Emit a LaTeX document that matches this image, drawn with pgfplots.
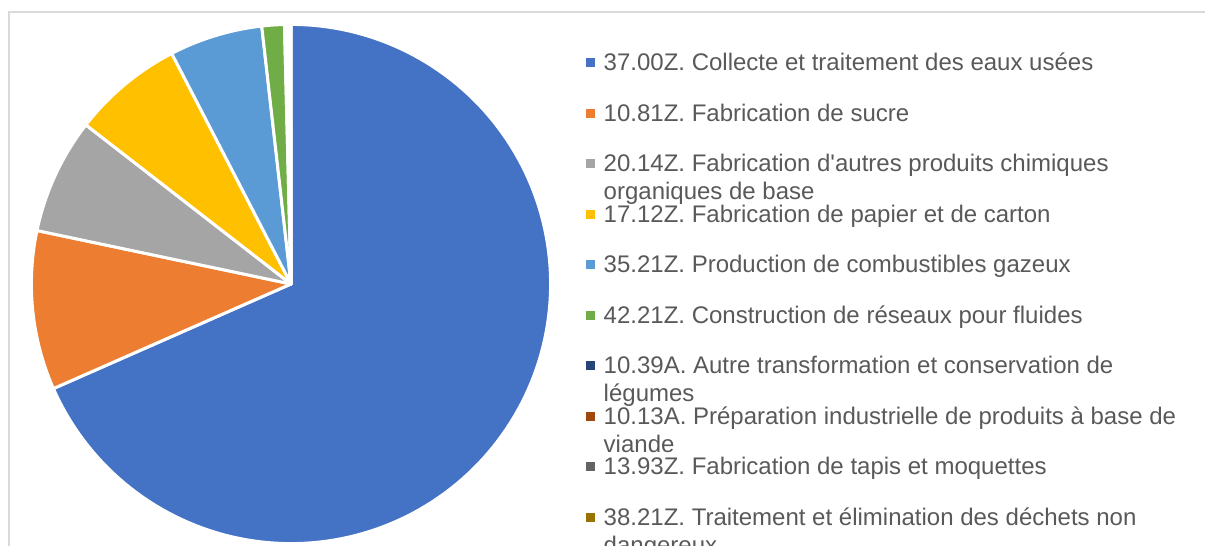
\documentclass[border=0pt]{standalone}
\usepackage{pgfplots}
\pgfplotsset{compat=1.18}
\usepackage{fontspec}
\setmainfont{Liberation Sans}[Ligatures=TeXOff]
\definecolor{c1}{HTML}{4472C4}
\definecolor{c2}{HTML}{ED7D31}
\definecolor{c3}{HTML}{A5A5A5}
\definecolor{c4}{HTML}{FFC000}
\definecolor{c5}{HTML}{5B9BD5}
\definecolor{c6}{HTML}{70AD47}
\definecolor{c7}{HTML}{264478}
\definecolor{c8}{HTML}{9E480E}
\definecolor{c9}{HTML}{636363}
\definecolor{c10}{HTML}{997300}
\definecolor{txt}{HTML}{595959}
\definecolor{frame}{HTML}{D9D9D9}
\newcommand\LA[1]{\raisebox{0pt}[9.3pt][0.7pt]{#1}}
\newcommand\LB[2]{\raisebox{0pt}[9.3pt][0.7pt]{\begin{tabular}[t]{@{}l@{}}#1\\#2\end{tabular}}}
% shares in percent, clockwise from 12 o'clock
\def\vA{68.40}\def\vB{9.90}\def\vC{7.20}\def\vD{6.90}\def\vE{5.80}
\def\vF{1.40}\def\vG{0.20}\def\vH{0.09}\def\vI{0.06}\def\vJ{0.05}
\newcommand\slice[4]{%
  \addplot[fill=#1, draw=white, line width=1.5pt, line join=round,
    domain=#3:#2, samples=#4, variable=\t]
    ({cos(t)},{sin(t)}) -- (axis cs:0,0) -- cycle;}
\begin{document}
\begin{tikzpicture}
\pgfmathsetmacro\aO{90}
\pgfmathsetmacro\aA{\aO-3.6*\vA}
\pgfmathsetmacro\aB{\aA-3.6*\vB}
\pgfmathsetmacro\aC{\aB-3.6*\vC}
\pgfmathsetmacro\aD{\aC-3.6*\vD}
\pgfmathsetmacro\aE{\aD-3.6*\vE}
\pgfmathsetmacro\aF{\aE-3.6*\vF}
\pgfmathsetmacro\aG{\aF-3.6*\vG}
\pgfmathsetmacro\aH{\aG-3.6*\vH}
\pgfmathsetmacro\aI{\aH-3.6*\vI}
\pgfmathsetmacro\aJ{\aI-3.6*\vJ}
\useasboundingbox (0,0) rectangle (602.5pt,-273pt);
\draw[frame, line width=1pt] (4.5pt,-280pt) -- (4.5pt,-6pt) -- (610pt,-6pt);
\begin{axis}[
  at={(145.5pt,-142pt)}, anchor=center,
  x=129.8pt, y=129.8pt,
  xmin=-1, xmax=1, ymin=-1, ymax=1,
  hide axis, clip=false,
  legend cell align=left,
  legend image code/.code={\fill[#1,draw=none] (0pt,-2.3pt) rectangle (4.6pt,2.3pt);},
  legend style={at={(axis cs:1.133,0.895)}, anchor=north west, draw=none, fill=none,
    font=\fontsize{12}{14}\selectfont, text=txt, row sep=14.45pt, column sep=4.5pt,
    inner sep=0pt, nodes={inner sep=0pt}},
]
\slice{c1}{\aO}{\aA}{150}
\addlegendentry{\LA{37.00Z. Collecte et traitement des eaux usées}}
\slice{c2}{\aA}{\aB}{30}
\addlegendentry{\LA{10.81Z. Fabrication de sucre}}
\slice{c3}{\aB}{\aC}{25}
\addlegendentry{\LB{20.14Z. Fabrication d'autres produits chimiques}{organiques de base}}
\slice{c4}{\aC}{\aD}{25}
\addlegendentry{\LA{17.12Z. Fabrication de papier et de carton}}
\slice{c5}{\aD}{\aE}{20}
\addlegendentry{\LA{35.21Z. Production de combustibles gazeux}}
\slice{c6}{\aE}{\aF}{6}
\addlegendentry{\LA{42.21Z. Construction de réseaux pour fluides}}
\slice{c7}{\aF}{\aG}{3}
\addlegendentry{\LB{10.39A. Autre transformation et conservation de}{légumes}}
\slice{c8}{\aG}{\aH}{3}
\addlegendentry{\LB{10.13A. Préparation industrielle de produits à base de}{viande}}
\slice{c9}{\aH}{\aI}{3}
\addlegendentry{\LA{13.93Z. Fabrication de tapis et moquettes}}
\slice{c10}{\aI}{\aJ}{3}
\addlegendentry{\LB{38.21Z. Traitement et élimination des déchets non}{dangereux}}
\end{axis}
\end{tikzpicture}
\end{document}
